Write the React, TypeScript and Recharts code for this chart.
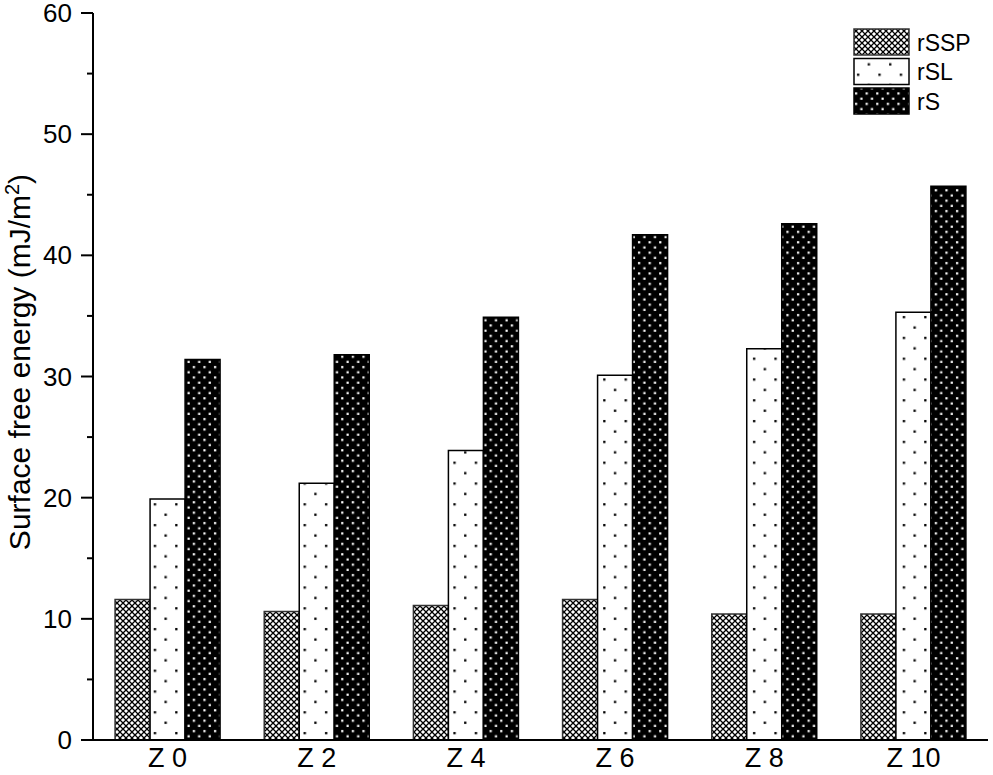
import React from "react";
import { BarChart, Bar, XAxis, YAxis } from "recharts";

const categories = ["Z 0", "Z 2", "Z 4", "Z 6", "Z 8", "Z 10"];
const rSSP = [11.6, 10.6, 11.1, 11.6, 10.4, 10.4];
const rSL = [19.9, 21.2, 23.9, 30.1, 32.3, 35.3];
const rS = [31.4, 31.8, 34.9, 41.7, 42.6, 45.7];
const yTicks = [0, 5, 10, 15, 20, 25, 30, 35, 40, 45, 50, 55, 60];

const data = categories.map((name, i) => ({ name, rSSP: rSSP[i], rSL: rSL[i], rS: rS[i] }));

const FONT = "'Liberation Sans', Arial, sans-serif";

const series = [
  { key: "rSSP", fill: "url(#pSSP)", stroke: "#333" },
  { key: "rSL", fill: "url(#pSL)", stroke: "#000" },
  { key: "rS", fill: "url(#pS)", stroke: "#000" },
];

const YTick = (props: any) => {
  const { x, y, payload } = props;
  const major = payload.value % 10 === 0;
  return (
    <g>
      <line x1={x - (major ? 12 : 6)} x2={x} y1={y} y2={y} stroke="#000" strokeWidth={2} />
      {major && (
        <text x={x - 21} y={y} dy={9} textAnchor="end" fontSize={26} fontFamily={FONT} fill="#000">
          {payload.value}
        </text>
      )}
    </g>
  );
};

const XTick = (props: any) => {
  const { x, y, payload } = props;
  return (
    <text x={x} y={y + 27} textAnchor="middle" fontSize={27} fontFamily={FONT} fill="#000">
      {payload.value}
    </text>
  );
};

const YLabel = () => {
  const cx = 30;
  const cy = 362;
  return (
    <text
      x={cx}
      y={cy}
      transform={`rotate(-90 ${cx} ${cy})`}
      textAnchor="middle"
      fontSize={30}
      fontFamily={FONT}
      fill="#000"
    >
      Surface free energy (mJ/m
      <tspan dy={-11} fontSize={20}>2</tspan>
      <tspan dy={11}>)</tspan>
    </text>
  );
};

const LegendBox = () => (
  <svg width={140} height={95} style={{ position: "absolute", left: 853, top: 28 }}>
    {series.map((s, i) => (
      <g key={s.key}>
        <rect x={1} y={1 + i * 29.5} width={55} height={26} fill={s.fill} stroke={s.stroke} strokeWidth={1.5} />
        <text x={64} y={1 + i * 29.5 + 21.5} fontSize={23} fontFamily={FONT} fill="#000">
          {s.key}
        </text>
      </g>
    ))}
  </svg>
);

export default function App() {
  return (
    <div style={{ position: "absolute", left: 0, top: 0, width: 993, height: 775, background: "#fff" }}>
      <svg width={0} height={0} style={{ position: "absolute" }}>
        <defs>
          <pattern id="pSSP" patternUnits="userSpaceOnUse" width={6} height={6}>
            <rect width={6} height={6} fill="#fff" />
            <path d="M0,0 L6,6 M6,0 L0,6" stroke="#000" strokeWidth={1.3} />
          </pattern>
          <pattern id="pSL" patternUnits="userSpaceOnUse" width={21.4} height={20.8}>
            <rect width={21.4} height={20.8} fill="#fff" />
            <rect x={4} y={4} width={2.3} height={2.3} fill="#000" />
            <rect x={14.7} y={14.4} width={2.3} height={2.3} fill="#000" />
          </pattern>
          <pattern id="pS" patternUnits="userSpaceOnUse" width={10.6} height={10.4}>
            <rect width={10.6} height={10.4} fill="#000" />
            <rect x={2} y={2} width={2.2} height={2.2} fill="#fff" />
            <rect x={7.3} y={7.2} width={2.2} height={2.2} fill="#fff" />
          </pattern>
        </defs>
      </svg>
      <BarChart
        width={993}
        height={775}
        data={data}
        margin={{ top: 13, right: 5, bottom: 0, left: 0 }}
        barCategoryGap="14.8%"
        barGap={0}
      >
        <XAxis
          dataKey="name"
          height={35}
          tickSize={0}
          tickMargin={0}
          interval={0}
          tick={<XTick />}
          axisLine={{ stroke: "#000", strokeWidth: 2 }}
          tickLine={false}
        />
        <XAxis
          xAxisId="top"
          dataKey="name"
          orientation="top"
          height={0}
          tick={false}
          tickLine={false}
          axisLine={{ stroke: "#000", strokeWidth: 2 }}
        />
        <YAxis
          width={93}
          domain={[0, 60]}
          ticks={yTicks}
          interval={0}
          tickSize={0}
          tickMargin={0}
          tick={<YTick />}
          tickLine={false}
          axisLine={{ stroke: "#000", strokeWidth: 2 }}
          label={{ content: <YLabel /> }}
        />
        <YAxis
          yAxisId="right"
          orientation="right"
          width={0}
          domain={[0, 60]}
          tick={false}
          tickLine={false}
          axisLine={{ stroke: "#999", strokeWidth: 2 }}
        />
        {series.map((s) => (
          <Bar
            key={s.key}
            dataKey={s.key}
            fill={s.fill}
            stroke={s.stroke}
            strokeWidth={1.5}
            isAnimationActive={false}
          />
        ))}
      </BarChart>
      <LegendBox />
    </div>
  );
}
